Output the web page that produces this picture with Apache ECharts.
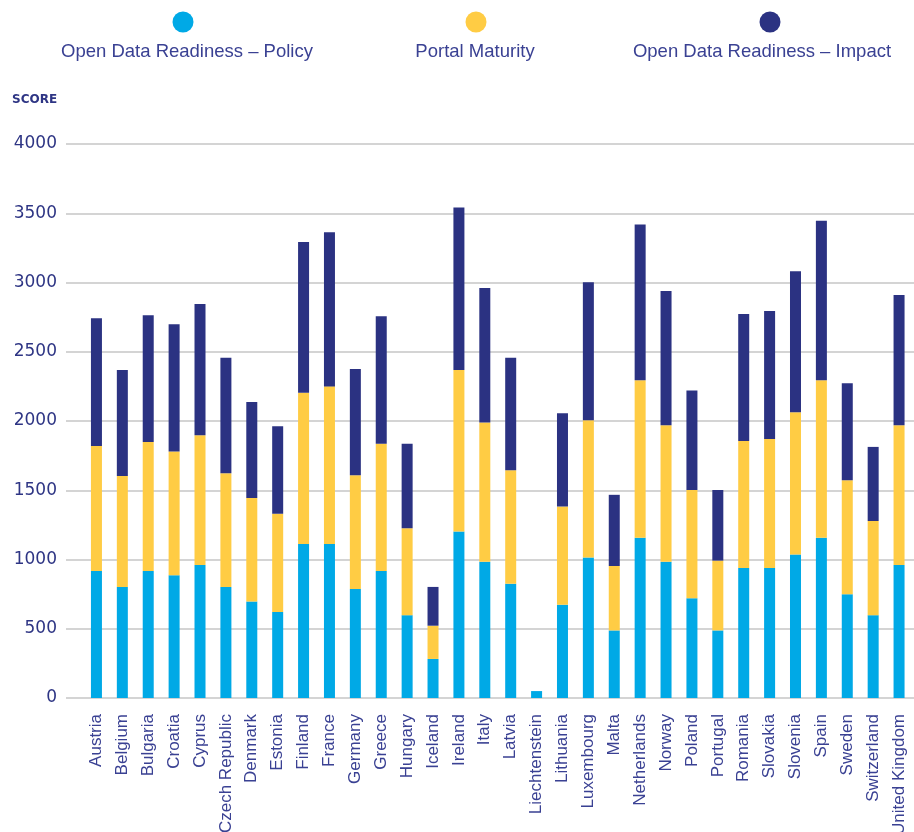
<!DOCTYPE html>
<html>
<head>
<meta charset="utf-8">
<title>Open Data Maturity scores</title>
<script src="https://cdn.jsdelivr.net/npm/echarts@6/dist/echarts.min.js"></script>
<style>
  html, body { margin: 0; padding: 0; background: #fff; }
  #chart { width: 914px; height: 832px; }
</style>
</head>
<body>
<div id="chart"></div>
<script>
// categories
var countries = ['Austria', 'Belgium', 'Bulgaria', 'Croatia', 'Cyprus', 'Czech Republic', 'Denmark',
  'Estonia', 'Finland', 'France', 'Germany', 'Greece', 'Hungary', 'Iceland', 'Ireland', 'Italy',
  'Latvia', 'Liechtenstein', 'Lithuania', 'Luxembourg', 'Malta', 'Netherlands', 'Norway', 'Poland',
  'Portugal', 'Romania', 'Slovakia', 'Slovenia', 'Spain', 'Sweden', 'Switzerland', 'United Kingdom'];

// series values
var policy = [917, 802, 917, 886, 961, 802, 696, 621, 1112, 1112, 787, 917, 598, 282, 1203, 984,
  825, 50, 673, 1015, 488, 1157, 984, 720, 488, 939, 939, 1037, 1157, 749, 598, 961];
var portal = [903, 800, 932, 893, 937, 820, 748, 710, 1092, 1138, 821, 918, 627, 240, 1165, 1006,
  820, 0, 710, 990, 465, 1138, 985, 782, 504, 917, 931, 1026, 1138, 824, 680, 1008];
var impact = [922, 766, 915, 920, 947, 835, 694, 631, 1088, 1112, 768, 921, 610, 280, 1173, 970,
  812, 0, 673, 997, 514, 1123, 969, 718, 510, 916, 924, 1018, 1151, 699, 535, 941];

var seriesNames = ['Open Data Readiness \u2013 Policy', 'Portal Maturity', 'Open Data Readiness \u2013 Impact'];
var colors = ['#00a9e6', '#ffcc44', '#2b3282'];

// y axis ticks
var yMin = 0, yMax = 4000, yStep = 500;

var navy = '#2e3584';
var legendX = [[183, 187], [476, 475], [770, 762]];

var chart = echarts.init(document.getElementById('chart'));

var legendGraphics = [];
seriesNames.forEach(function (name, i) {
  legendGraphics.push({
    type: 'circle',
    shape: { cx: legendX[i][0], cy: 22, r: 10.5 },
    style: { fill: colors[i] }
  });
  legendGraphics.push({
    type: 'text',
    x: legendX[i][1], y: 52,
    style: {
      text: name, fill: '#3a4193', font: '18.5px "Liberation Sans", Arial, sans-serif',
      align: 'center', verticalAlign: 'middle'
    }
  });
});
legendGraphics.push({
  type: 'text', x: 12, y: 100,
  style: {
    text: 'SCORE', fill: navy, font: 'bold 12px "DejaVu Sans", sans-serif',
    align: 'left', verticalAlign: 'middle'
  }
});

var option = {
  animation: false,
  graphic: legendGraphics,
  grid: [
    { left: 66, right: 0, top: 144, bottom: 134, outerBoundsMode: 'none' },
    { left: 83.5, right: 2, top: 144, bottom: 134, outerBoundsMode: 'none' }
  ],
  xAxis: [
    { gridIndex: 0, type: 'category', data: countries, show: false },
    {
      gridIndex: 1, type: 'category', data: countries,
      axisLine: { show: false }, axisTick: { show: false },
      axisLabel: {
        interval: 0, rotate: 90, margin: 16, color: '#3a4193',
        fontSize: 17, fontFamily: 'Liberation Sans'
      }
    }
  ],
  yAxis: [
    {
      gridIndex: 0, type: 'value', min: yMin, max: yMax, interval: yStep,
      axisLine: { show: false }, axisTick: { show: false },
      axisLabel: {
        margin: 9, color: navy, fontSize: 17, fontFamily: 'DejaVu Sans',
        formatter: function (v) { return String(v); }
      },
      splitLine: { lineStyle: { color: '#d4d4d4', width: 2 } }
    },
    { gridIndex: 1, type: 'value', min: yMin, max: yMax, interval: yStep, show: false }
  ],
  series: [policy, portal, impact].map(function (vals, i) {
    return {
      name: seriesNames[i],
      type: 'bar',
      stack: 'score',
      xAxisIndex: 1,
      yAxisIndex: 1,
      barWidth: 11,
      itemStyle: { color: colors[i] },
      data: vals
    };
  })
};

chart.setOption(option);
</script>
</body>
</html>
